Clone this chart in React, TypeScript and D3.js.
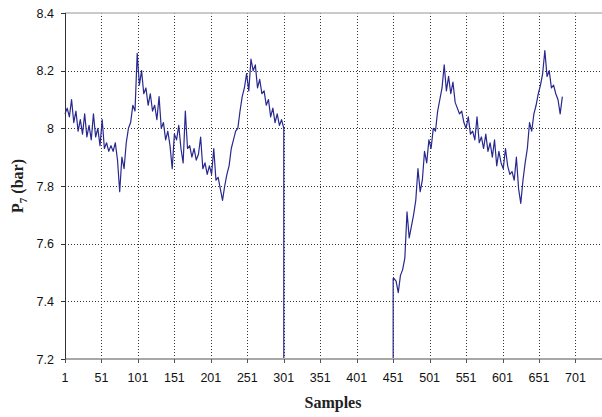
import * as d3 from "d3";
import { useEffect, useRef } from "react";

// tick labels
const xTicks = [1, 51, 101, 151, 201, 251, 301, 351, 401, 451, 501, 551, 601, 651, 701];
const yTicks = [7.2, 7.4, 7.6, 7.8, 8.0, 8.2, 8.4];

// first run: samples 1..301, every 3 samples
const run1Start = 1;
const run1Values = [
  8.05, 8.07, 8.04, 8.1, 8.02, 8.06, 7.99, 8.03, 7.98, 8.05,
  7.97, 8.01, 7.96, 8.05, 7.97, 8.0, 7.94, 8.03, 7.93, 7.95,
  7.92, 7.94, 7.92, 7.95, 7.89, 7.78, 7.9, 7.86, 7.95, 8.0,
  8.02, 8.08, 8.06, 8.26, 8.15, 8.2, 8.12, 8.14, 8.08, 8.12,
  8.06, 8.08, 8.03, 8.11, 8.0, 8.02, 7.96, 7.99, 7.94, 7.86,
  7.98, 7.96, 8.01, 7.93, 7.88, 8.06, 7.93, 7.94, 7.9, 7.93,
  7.89, 7.91, 7.97, 7.86, 7.88, 7.84, 7.87, 7.84, 7.93, 7.82,
  7.83, 7.79, 7.75, 7.8, 7.84, 7.87, 7.93, 7.96, 7.99, 8.0,
  8.06, 8.11, 8.14, 8.19, 8.13, 8.24, 8.2, 8.22, 8.14, 8.17,
  8.12, 8.13, 8.08, 8.1, 8.04, 8.07, 8.02, 8.05, 8.01, 8.03,
  8.0,
];
const run1End = 301;

// second run: samples 452..683, every 3 samples
const run2Start = 452;
const run2Values = [
  7.48, 7.47, 7.43, 7.49, 7.51, 7.55, 7.71, 7.62, 7.66, 7.7,
  7.75, 7.86, 7.78, 7.82, 7.92, 7.88, 7.96, 7.93, 8.0, 7.99,
  8.06, 8.1, 8.14, 8.22, 8.13, 8.18, 8.12, 8.16, 8.09, 8.07,
  8.05, 8.06, 8.02, 8.0, 8.04, 7.98, 7.99, 7.96, 8.04, 7.95,
  7.97, 7.93, 7.98, 7.92, 7.95, 7.9, 7.96, 7.87, 7.92, 7.88,
  7.86, 7.93, 7.87, 7.84, 7.85, 7.82, 7.9, 7.79, 7.74, 7.82,
  7.88, 7.93, 8.02, 7.99, 8.05, 8.08, 8.12, 8.15, 8.19, 8.27,
  8.18, 8.2, 8.14, 8.15, 8.12, 8.1, 8.05, 8.11,
];
const step = 3;
const floorValue = 7.2;

export default function App() {
  const ref = useRef<SVGSVGElement>(null);

  useEffect(() => {
    const svg = d3.select(ref.current);
    svg.selectAll("*").remove();
    const width = 602;
    const height = 417;
    const margin = { top: 13, right: 1, bottom: 58, left: 65 };

    const x = d3.scaleLinear().domain([1, 736]).range([margin.left, width - margin.right]);
    const y = d3.scaleLinear().domain([7.2, 8.4]).range([height - margin.bottom, margin.top]);

    svg.attr("viewBox", [0, 0, width, height]);
    svg.append("rect").attr("width", width).attr("height", height).attr("fill", "#fff");

    // grid
    const grid = svg
      .append("g")
      .attr("stroke", "#333")
      .attr("stroke-dasharray", "1,2")
      .attr("shape-rendering", "crispEdges");
    grid
      .selectAll("line.h")
      .data(yTicks.filter((t) => t > 7.2 && t < 8.4))
      .join("line")
      .attr("x1", margin.left)
      .attr("x2", width)
      .attr("y1", (d) => Math.round(y(d)) + 0.5)
      .attr("y2", (d) => Math.round(y(d)) + 0.5);
    grid
      .selectAll("line.v")
      .data(xTicks.slice(1))
      .join("line")
      .attr("x1", (d) => Math.round(x(d)) + 0.5)
      .attr("x2", (d) => Math.round(x(d)) + 0.5)
      .attr("y1", margin.top)
      .attr("y2", y(7.2));

    // top border
    svg
      .append("line")
      .attr("x1", margin.left)
      .attr("x2", width)
      .attr("y1", y(8.4))
      .attr("y2", y(8.4))
      .attr("stroke", "#b8b8b8")
      .attr("stroke-width", 1.5);

    // series
    const pts1: [number, number][] = run1Values.map((v, i) => [run1Start + i * step, v]);
    pts1.push([run1End, floorValue]);
    const pts2: [number, number][] = [[run2Start - 1, floorValue], [run2Start - 1, run2Values[0]]];
    run2Values.forEach((v, i) => pts2.push([run2Start + i * step, v]));

    const line = d3
      .line<[number, number]>()
      .x((d) => x(d[0]))
      .y((d) => y(d[1]));

    svg
      .append("g")
      .selectAll("path")
      .data([pts1, pts2])
      .join("path")
      .attr("d", (d) => line(d))
      .attr("fill", "none")
      .attr("stroke", "#28288f")
      .attr("stroke-width", 1.2)
      .attr("stroke-linejoin", "round");

    // bottom axis
    svg
      .append("line")
      .attr("x1", margin.left)
      .attr("x2", width)
      .attr("y1", y(7.2))
      .attr("y2", y(7.2))
      .attr("stroke", "#a8a8a8")
      .attr("stroke-width", 2);
    svg
      .append("g")
      .selectAll("line")
      .data(xTicks)
      .join("line")
      .attr("x1", (d) => Math.round(x(d)) + 0.5)
      .attr("x2", (d) => Math.round(x(d)) + 0.5)
      .attr("y1", y(7.2))
      .attr("y2", y(7.2) + 4)
      .attr("stroke", "#555");
    svg
      .append("g")
      .selectAll("text")
      .data(xTicks)
      .join("text")
      .attr("x", (d) => x(d))
      .attr("y", y(7.2) + 23)
      .attr("text-anchor", "middle")
      .attr("font-family", "Liberation Sans, Arial, sans-serif")
      .attr("font-size", 12.5)
      .attr("fill", "#111")
      .text((d) => d);

    // left axis
    svg
      .append("line")
      .attr("x1", margin.left + 0.5)
      .attr("x2", margin.left + 0.5)
      .attr("y1", y(8.4))
      .attr("y2", y(7.2))
      .attr("stroke", "#333");
    svg
      .append("g")
      .selectAll("line")
      .data(yTicks)
      .join("line")
      .attr("x1", margin.left - 4)
      .attr("x2", margin.left)
      .attr("y1", (d) => Math.round(y(d)) + 0.5)
      .attr("y2", (d) => Math.round(y(d)) + 0.5)
      .attr("stroke", "#333");
    svg
      .append("g")
      .selectAll("text")
      .data(yTicks)
      .join("text")
      .attr("x", margin.left - 11)
      .attr("y", (d) => y(d) + 4.5)
      .attr("text-anchor", "end")
      .attr("font-family", "Liberation Sans, Arial, sans-serif")
      .attr("font-size", 12.5)
      .attr("fill", "#111")
      .text((d) => d3.format("~g")(d));

    // axis titles
    svg
      .append("text")
      .attr("x", 333)
      .attr("y", 408)
      .attr("text-anchor", "middle")
      .attr("font-family", "Liberation Serif, Times New Roman, serif")
      .attr("font-weight", "bold")
      .attr("font-size", 16)
      .attr("fill", "#222")
      .text("Samples");

    const yt = svg
      .append("text")
      .attr("transform", "translate(23,186) rotate(-90)")
      .attr("text-anchor", "middle")
      .attr("font-family", "Liberation Serif, Times New Roman, serif")
      .attr("font-weight", "bold")
      .attr("font-size", 16)
      .attr("fill", "#222");
    yt.append("tspan").text("P");
    yt.append("tspan").attr("font-size", 11).attr("dy", 4).text("7");
    yt.append("tspan").attr("dy", -4).text(" (bar)");
  }, []);

  return (
    <svg
      ref={ref}
      width={602}
      height={417}
      style={{ position: "absolute", left: 0, top: 0, display: "block" }}
    />
  );
}
